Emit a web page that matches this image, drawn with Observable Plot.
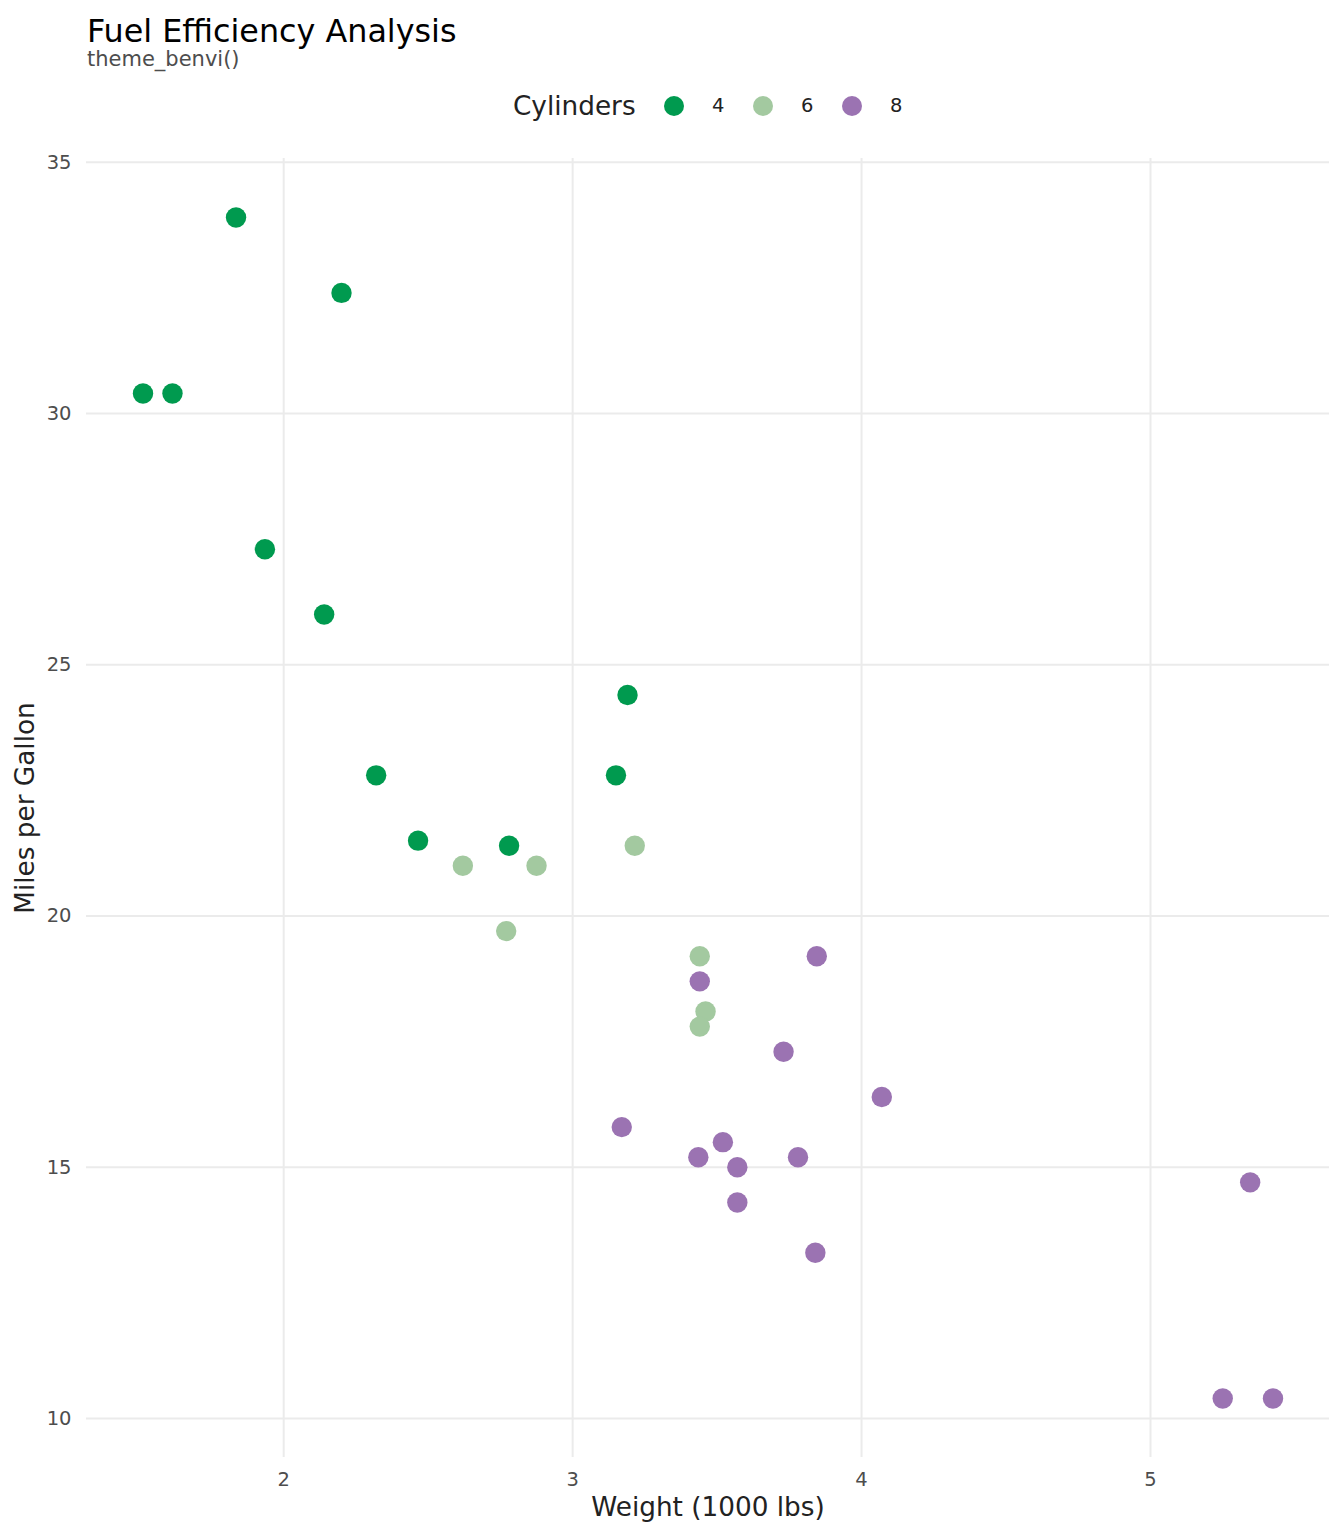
<!DOCTYPE html>
<html>
<head>
<meta charset="utf-8">
<script src="https://cdn.jsdelivr.net/npm/d3@7"></script>
<script src="https://cdn.jsdelivr.net/npm/@observablehq/plot@0.6"></script>
<style>
  html, body { margin: 0; padding: 0; background: #ffffff; }
  body { width: 1344px; font-family: "DejaVu Sans", sans-serif; }
  #header { position: relative; width: 1344px; height: 140px; }
  #title { position: absolute; left: 87px; top: 15px; font-size: 31.8px; line-height: 1; color: #000000; white-space: nowrap; }
  #subtitle { position: absolute; left: 87px; top: 49px; font-size: 21px; line-height: 1; color: #4d4d4d; white-space: nowrap; }
  .leg { position: absolute; line-height: 1; white-space: nowrap; }
  #chart svg { display: block; }
</style>
</head>
<body>
<div id="header">
  <div id="title">Fuel Efficiency Analysis</div>
  <div id="subtitle">theme_benvi()</div>
</div>
<div id="chart"></div>
<script>
// mtcars: weight (1000 lbs), miles per gallon, cylinders
const wt  = [2.620, 2.875, 2.320, 3.215, 3.440, 3.460, 3.570, 3.190, 3.150, 3.440, 3.440, 4.070, 3.730, 3.780, 5.250, 5.424, 5.345, 2.200, 1.615, 1.835, 2.465, 3.520, 3.435, 3.840, 3.845, 1.935, 2.140, 1.513, 3.170, 2.770, 3.570, 2.780];
const mpg = [21.0, 21.0, 22.8, 21.4, 18.7, 18.1, 14.3, 24.4, 22.8, 19.2, 17.8, 16.4, 17.3, 15.2, 10.4, 10.4, 14.7, 32.4, 30.4, 33.9, 21.5, 15.5, 15.2, 13.3, 19.2, 27.3, 26.0, 30.4, 15.8, 19.7, 15.0, 21.4];
const cyl = [6, 6, 4, 6, 8, 6, 8, 4, 4, 6, 6, 8, 8, 8, 8, 8, 8, 4, 4, 4, 4, 8, 8, 8, 8, 4, 4, 4, 8, 6, 8, 4];

const cylCategories = ["4", "6", "8"];
const cylColors = ["#009a4f", "#a3c9a0", "#9b73b2"];
const xTicks = [2, 3, 4, 5];
const yTicks = [10, 15, 20, 25, 30, 35];
const xLabel = "Weight (1000 lbs)";
const yLabel = "Miles per Gallon";
const legendTitle = "Cylinders";

const data = wt.map((w, i) => ({wt: w, mpg: mpg[i], cyl: String(cyl[i])}));

// ggplot-style 5% expansion of the data range
const xMin = d3.min(wt), xMax = d3.max(wt);
const yMin = d3.min(mpg), yMax = d3.max(mpg);
const xPad = (xMax - xMin) * 0.05, yPad = (yMax - yMin) * 0.05;

const chart = Plot.plot({
  width: 1344,
  height: 1396,
  marginTop: 18,
  marginBottom: 79,
  marginLeft: 86,
  marginRight: 15,
  style: {fontFamily: "DejaVu Sans", fontSize: "19.5px", color: "#4d4d4d", background: "#ffffff"},
  x: {domain: [xMin - xPad, xMax + xPad]},
  y: {domain: [yMin - yPad, yMax + yPad]},
  color: {domain: cylCategories, range: cylColors},
  marks: [
    Plot.gridY(yTicks, {stroke: "#ebebeb", strokeOpacity: 1, strokeWidth: 2}),
    Plot.gridX(xTicks, {stroke: "#ebebeb", strokeOpacity: 1, strokeWidth: 2}),
    Plot.axisX(xTicks, {tickSize: 0, tickPadding: 15, label: null, fill: "#4d4d4d", fontSize: 19.5, tickFormat: d => String(d)}),
    Plot.axisY(yTicks, {tickSize: 0, tickPadding: 15, label: null, fill: "#4d4d4d", fontSize: 19.5, tickFormat: d => String(d)}),
    Plot.text([xLabel], {frameAnchor: "bottom", dy: 50, lineAnchor: "middle", textAnchor: "middle", fontSize: 26.3, fill: "#222222", text: d => d}),
    Plot.text([yLabel], {frameAnchor: "left", dx: -61, rotate: -90, lineAnchor: "middle", textAnchor: "middle", fontSize: 26.3, fill: "#222222", text: d => d}),
    Plot.dot(data, {x: "wt", y: "mpg", fill: "cyl", r: 10.2, stroke: null})
  ]
});
document.getElementById("chart").appendChild(chart);

// Legend (HTML, above the SVG)
const header = document.getElementById("header");
const lt = document.createElement("div");
lt.className = "leg";
lt.textContent = legendTitle;
lt.style.cssText = "left:513px;top:93px;font-size:26.3px;color:#222222;";
header.appendChild(lt);
cylCategories.forEach((c, i) => {
  const sw = document.createElement("div");
  sw.className = "leg";
  sw.style.cssText = `left:${664 + 89 * i}px;top:96px;width:20.4px;height:20.4px;border-radius:50%;background:${cylColors[i]};`;
  header.appendChild(sw);
  const lb = document.createElement("div");
  lb.className = "leg";
  lb.textContent = c;
  lb.style.cssText = `left:${712 + 89 * i}px;top:96px;font-size:19.5px;color:#222222;`;
  header.appendChild(lb);
});
</script>
</body>
</html>
